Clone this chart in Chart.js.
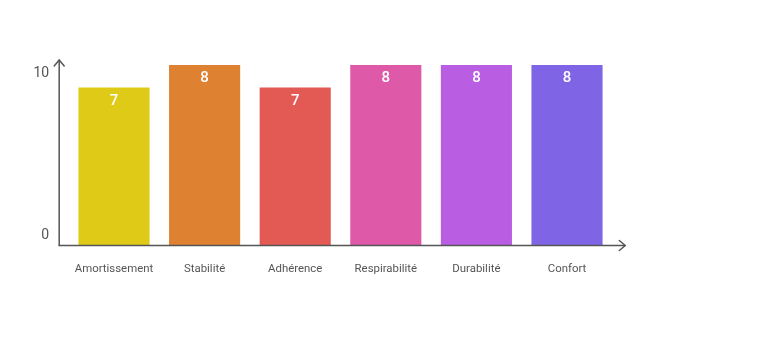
<!DOCTYPE html>
<html><head><meta charset="utf-8">
<script src="https://cdn.jsdelivr.net/npm/chart.js@4/dist/chart.umd.min.js"></script>
<style>html,body{margin:0;padding:0;background:#fff}#wrap{width:768px;height:355px}</style>
</head><body><div id="wrap"><canvas id="c" width="768" height="355"></canvas></div>
<script>
const categories = ['Amortissement','Stabilité','Adhérence','Respirabilité','Durabilité','Confort'];
const values = [7, 8, 7, 8, 8, 8];
const barColors = ['#dfcb17','#de8231','#e35a55','#de5aa8','#b95ee3','#8064e6'];
const yTickLabels = ['0','10'];
const yTickValues = [0.4, 7.64];

const axisColor = '#555555';

const axesPlugin = {
  id: 'axesArrows',
  afterDraw(chart) {
    const ctx = chart.ctx, a = chart.chartArea;
    const x0 = a.left - 9.5, y0 = a.bottom + 0.5;
    const yTop = a.top, xEnd = a.right + 13;
    ctx.save();
    ctx.strokeStyle = axisColor; ctx.lineWidth = 1.5; ctx.lineCap = 'round'; ctx.lineJoin='round';
    ctx.beginPath(); ctx.moveTo(x0, y0); ctx.lineTo(x0, yTop); ctx.stroke();
    ctx.beginPath(); ctx.moveTo(x0 - 5, yTop + 6); ctx.lineTo(x0, yTop); ctx.lineTo(x0 + 5, yTop + 6); ctx.stroke();
    ctx.beginPath(); ctx.moveTo(x0, y0); ctx.lineTo(xEnd, y0); ctx.stroke();
    ctx.beginPath(); ctx.moveTo(xEnd - 6, y0 - 5); ctx.lineTo(xEnd, y0); ctx.lineTo(xEnd - 6, y0 + 5); ctx.stroke();
    ctx.restore();
  },
  afterDatasetsDraw(chart) {
    const ctx = chart.ctx;
    const meta = chart.getDatasetMeta(0);
    ctx.save();
    ctx.fillStyle = '#ffffff';
    ctx.font = '500 15px Roboto';
    ctx.textAlign = 'center'; ctx.textBaseline = 'middle';
    meta.data.forEach((bar, i) => {
      ctx.fillText(String(values[i]), bar.x, bar.y + 13.5);
    });
    ctx.restore();
  }
};

new Chart(document.getElementById('c'), {
  type: 'bar',
  data: {
    labels: categories,
    datasets: [{
      data: values,
      backgroundColor: barColors,
      borderWidth: 0,
      barPercentage: 0.785,
      categoryPercentage: 1.0
    }]
  },
  options: {
    responsive: false,
    animation: false,
    devicePixelRatio: 1,
    layout: { padding: { left: 0, right: 155.7, top: 60, bottom: 0 } },
    plugins: { legend: { display: false }, tooltip: { enabled: false } },
    scales: {
      x: {
        grid: { display: false },
        border: { display: false },
        ticks: { color: axisColor, font: { family: 'Roboto', size: 11.4 }, padding: 9, maxRotation: 0, autoSkip: false },
        afterFit(scale) { scale.height = 110; }
      },
      y: {
        min: 0, max: 8.222,
        grid: { display: false },
        border: { display: false },
        afterBuildTicks(scale) { scale.ticks = yTickValues.map(v => ({ value: v })); },
        ticks: {
          color: axisColor, font: { family: 'Roboto', size: 14 }, padding: 11.5,
          callback(value, index) { return yTickLabels[index]; }
        },
        afterFit(scale) { scale.width = 68.7; }
      }
    }
  },
  plugins: [axesPlugin]
});
</script></body></html>
